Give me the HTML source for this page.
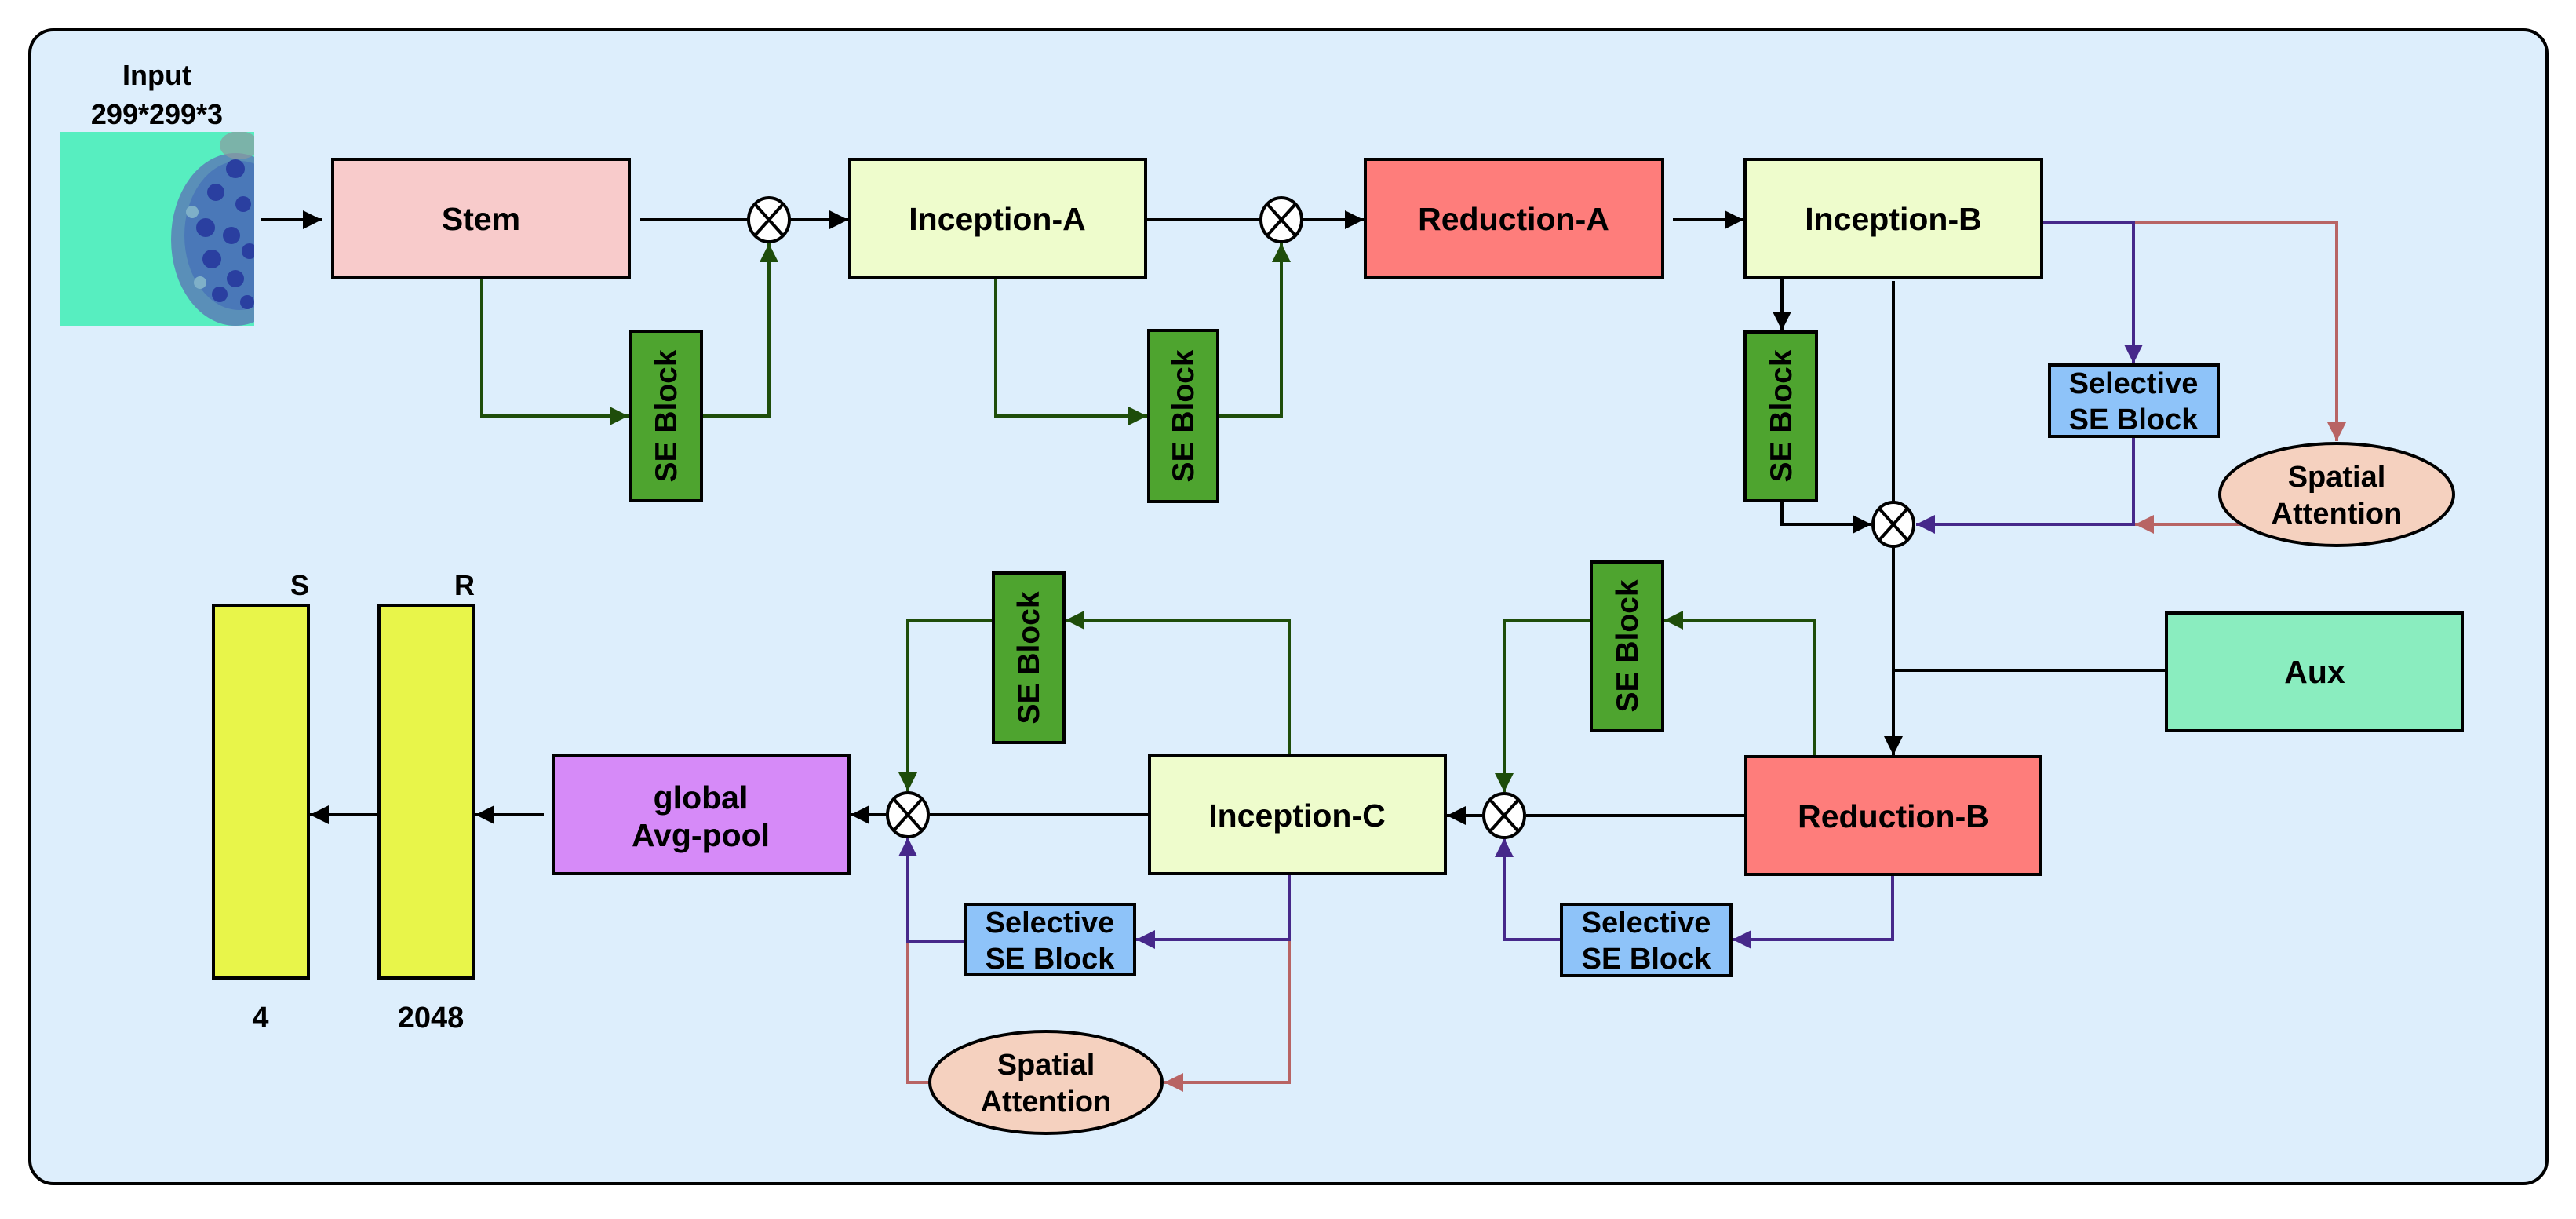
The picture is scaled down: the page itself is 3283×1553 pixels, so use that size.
<!DOCTYPE html>
<html><head><meta charset="utf-8"><style>
html,body{margin:0;padding:0;background:#fff;}
svg{display:block;}
text{font-family:"Liberation Sans",sans-serif;font-weight:bold;fill:#000;}
</style></head><body>
<svg width="3283" height="1553" viewBox="0 0 3283 1553" xmlns="http://www.w3.org/2000/svg">
<defs>
<marker id="ak" markerUnits="userSpaceOnUse" markerWidth="26" markerHeight="26" refX="24" refY="13" orient="auto"><path d="M0,1 L24,13 L0,25 Z" fill="#000"/></marker>
<marker id="ag" markerUnits="userSpaceOnUse" markerWidth="26" markerHeight="26" refX="24" refY="13" orient="auto"><path d="M0,1 L24,13 L0,25 Z" fill="#1e4d0a"/></marker>
<marker id="ap" markerUnits="userSpaceOnUse" markerWidth="26" markerHeight="26" refX="24" refY="13" orient="auto"><path d="M0,1 L24,13 L0,25 Z" fill="#46288a"/></marker>
<marker id="as" markerUnits="userSpaceOnUse" markerWidth="26" markerHeight="26" refX="24" refY="13" orient="auto"><path d="M0,1 L24,13 L0,25 Z" fill="#b86464"/></marker>
<clipPath id="imgclip"><rect x="77" y="168" width="247" height="247"/></clipPath>
</defs>
<rect x="38" y="38" width="3208" height="1470" rx="30" fill="#ddeefc" stroke="#000" stroke-width="4"/>

<!-- input -->
<text x="200" y="108" font-size="36" text-anchor="middle">Input</text>
<text x="200" y="158" font-size="36" text-anchor="middle">299*299*3</text>
<rect x="77" y="168" width="247" height="247" fill="#57eec0"/>
<g clip-path="url(#imgclip)">
<ellipse cx="300" cy="305" rx="82" ry="110" fill="#5a8fb8"/>
<ellipse cx="305" cy="300" rx="70" ry="95" fill="#4a78b8"/>
<circle cx="300" cy="215" r="12" fill="#2a3fa0"/>
<circle cx="275" cy="245" r="11" fill="#2a3fa0"/>
<circle cx="310" cy="260" r="10" fill="#2a3fa0"/>
<circle cx="262" cy="290" r="12" fill="#2a3fa0"/>
<circle cx="295" cy="300" r="11" fill="#2a3fa0"/>
<circle cx="318" cy="320" r="10" fill="#2a3fa0"/>
<circle cx="270" cy="330" r="12" fill="#2a3fa0"/>
<circle cx="300" cy="355" r="11" fill="#2a3fa0"/>
<circle cx="280" cy="375" r="10" fill="#2a3fa0"/>
<circle cx="315" cy="385" r="9" fill="#2a3fa0"/>
<circle cx="245" cy="270" r="8" fill="#7fb0c8"/>
<circle cx="255" cy="360" r="8" fill="#7fb0c8"/>
<ellipse cx="305" cy="185" rx="25" ry="18" fill="#8a9aa0" opacity="0.7"/>
</g>

<g stroke="#000" stroke-width="4" fill="none">
<line x1="333" y1="280" x2="410" y2="280" marker-end="url(#ak)"/>
<line x1="816" y1="280" x2="953" y2="280"/>
<line x1="1007" y1="280" x2="1081" y2="280" marker-end="url(#ak)"/>
<line x1="1460" y1="280" x2="1606" y2="280"/>
<line x1="1660" y1="280" x2="1738" y2="280" marker-end="url(#ak)"/>
<line x1="2132" y1="280" x2="2222" y2="280" marker-end="url(#ak)"/>
<line x1="2271" y1="353" x2="2271" y2="421" marker-end="url(#ak)"/>
<polyline points="2271,638 2271,668 2385,668" marker-end="url(#ak)"/>
<line x1="2413" y1="358" x2="2413" y2="640"/>
<line x1="2413" y1="696" x2="2413" y2="962" marker-end="url(#ak)"/>
<line x1="2413" y1="854" x2="2761" y2="854"/>
<line x1="2225" y1="1039" x2="1945" y2="1039"/>
<line x1="1889" y1="1039" x2="1844" y2="1039" marker-end="url(#ak)"/>
<line x1="1465" y1="1038" x2="1185" y2="1038"/>
<line x1="1129" y1="1038" x2="1084" y2="1038" marker-end="url(#ak)"/>
<line x1="693" y1="1038" x2="606" y2="1038" marker-end="url(#ak)"/>
<line x1="483" y1="1038" x2="395" y2="1038" marker-end="url(#ak)"/>
</g>
<g stroke="#1e4d0a" stroke-width="4" fill="none">
<polyline points="614,353 614,530 801,530" marker-end="url(#ag)"/>
<polyline points="894,530 980,530 980,310" marker-end="url(#ag)"/>
<polyline points="1269,353 1269,530 1462,530" marker-end="url(#ag)"/>
<polyline points="1552,530 1633,530 1633,310" marker-end="url(#ag)"/>
<polyline points="2313,964 2313,790 2121,790" marker-end="url(#ag)"/>
<polyline points="2028,790 1917,790 1917,1009" marker-end="url(#ag)"/>
<polyline points="1643,963 1643,790 1358,790" marker-end="url(#ag)"/>
<polyline points="1266,790 1157,790 1157,1008" marker-end="url(#ag)"/>
</g>
<g stroke="#b86464" stroke-width="4" fill="none">
<polyline points="2719,283 2978,283 2978,562" marker-end="url(#as)"/>
<line x1="2857" y1="668" x2="2721" y2="668" marker-end="url(#as)"/>
<polyline points="1643,1197 1643,1379 1484,1379" marker-end="url(#as)"/>
<polyline points="1185,1379 1157,1379 1157,1200"/>
</g>
<g stroke="#46288a" stroke-width="4" fill="none">
<polyline points="2602,283 2719,283 2719,463" marker-end="url(#ap)"/>
<polyline points="2719,556 2719,668 2442,668" marker-end="url(#ap)"/>
<polyline points="2412,1114 2412,1197 2208,1197" marker-end="url(#ap)"/>
<polyline points="1990,1197 1917,1197 1917,1068" marker-end="url(#ap)"/>
<polyline points="1643,1113 1643,1197 1448,1197" marker-end="url(#ap)"/>
<polyline points="1230,1200 1157,1200 1157,1067" marker-end="url(#ap)"/>
</g>

<!-- boxes -->
<g stroke="#000" stroke-width="4">
<rect x="424" y="203" width="378" height="150" fill="#f8cbcb"/>
<rect x="1083" y="203" width="377" height="150" fill="#eefccc"/>
<rect x="1740" y="203" width="379" height="150" fill="#fe7d7b"/>
<rect x="2224" y="203" width="378" height="150" fill="#eefccc"/>
<rect x="2761" y="781" width="377" height="150" fill="#8aedbf"/>
<rect x="2225" y="964" width="376" height="150" fill="#fe7d7b"/>
<rect x="1465" y="963" width="377" height="150" fill="#eefccc"/>
<rect x="705" y="963" width="377" height="150" fill="#d68af8"/>
<rect x="272" y="771" width="121" height="475" fill="#e8f54a"/>
<rect x="483" y="771" width="121" height="475" fill="#e8f54a"/>
<rect x="803" y="422" width="91" height="216" fill="#4ea42f"/>
<rect x="1464" y="421" width="88" height="218" fill="#4ea42f"/>
<rect x="2224" y="423" width="91" height="215" fill="#4ea42f"/>
<rect x="2028" y="716" width="91" height="215" fill="#4ea42f"/>
<rect x="1266" y="730" width="90" height="216" fill="#4ea42f"/>
<rect x="2612" y="465" width="215" height="91" fill="#8ec3f9"/>
<rect x="1990" y="1152" width="216" height="91" fill="#8ec3f9"/>
<rect x="1230" y="1152" width="216" height="90" fill="#8ec3f9"/>
<ellipse cx="2978" cy="630" rx="149" ry="65" fill="#f5d1bf"/>
<ellipse cx="1333" cy="1379" rx="148" ry="65" fill="#f5d1bf"/>
</g>

<!-- multiply circles -->
<g stroke="#000" stroke-width="4">
<g transform="translate(980,280)"><ellipse rx="26" ry="28" fill="#fff"/><line x1="-17" y1="-19" x2="17" y2="19"/><line x1="17" y1="-19" x2="-17" y2="19"/></g>
<g transform="translate(1633,280)"><ellipse rx="26" ry="28" fill="#fff"/><line x1="-17" y1="-19" x2="17" y2="19"/><line x1="17" y1="-19" x2="-17" y2="19"/></g>
<g transform="translate(2413,668)"><ellipse rx="26" ry="28" fill="#fff"/><line x1="-17" y1="-19" x2="17" y2="19"/><line x1="17" y1="-19" x2="-17" y2="19"/></g>
<g transform="translate(1917,1039)"><ellipse rx="26" ry="28" fill="#fff"/><line x1="-17" y1="-19" x2="17" y2="19"/><line x1="17" y1="-19" x2="-17" y2="19"/></g>
<g transform="translate(1157,1038)"><ellipse rx="26" ry="28" fill="#fff"/><line x1="-17" y1="-19" x2="17" y2="19"/><line x1="17" y1="-19" x2="-17" y2="19"/></g>
</g>

<!-- labels -->
<g font-size="41" text-anchor="middle">
<text x="613" y="293">Stem</text>
<text x="1271" y="293">Inception-A</text>
<text x="1929" y="293">Reduction-A</text>
<text x="2413" y="293">Inception-B</text>
<text x="2950" y="870">Aux</text>
<text x="2413" y="1054">Reduction-B</text>
<text x="1653" y="1053">Inception-C</text>
<text x="893" y="1030">global</text>
<text x="893" y="1078">Avg-pool</text>
<text x="382" y="758" font-size="36">S</text>
<text x="592" y="758" font-size="36">R</text>
<text x="332" y="1309" font-size="38">4</text>
<text x="549" y="1309" font-size="38">2048</text>
</g>
<g font-size="38" text-anchor="middle">
<text x="2719" y="501">Selective</text>
<text x="2719" y="547">SE Block</text>
<text x="2098" y="1188">Selective</text>
<text x="2098" y="1234">SE Block</text>
<text x="1338" y="1188">Selective</text>
<text x="1338" y="1234">SE Block</text>
<text x="2978" y="620">Spatial</text>
<text x="2978" y="667">Attention</text>
<text x="1333" y="1369">Spatial</text>
<text x="1333" y="1416">Attention</text>
</g>
<g font-size="39" text-anchor="middle">
<text transform="translate(862,530) rotate(-90)">SE Block</text>
<text transform="translate(1521,530) rotate(-90)">SE Block</text>
<text transform="translate(2283,530) rotate(-90)">SE Block</text>
<text transform="translate(2087,823) rotate(-90)">SE Block</text>
<text transform="translate(1324,838) rotate(-90)">SE Block</text>
</g>
</svg>
</body></html>
